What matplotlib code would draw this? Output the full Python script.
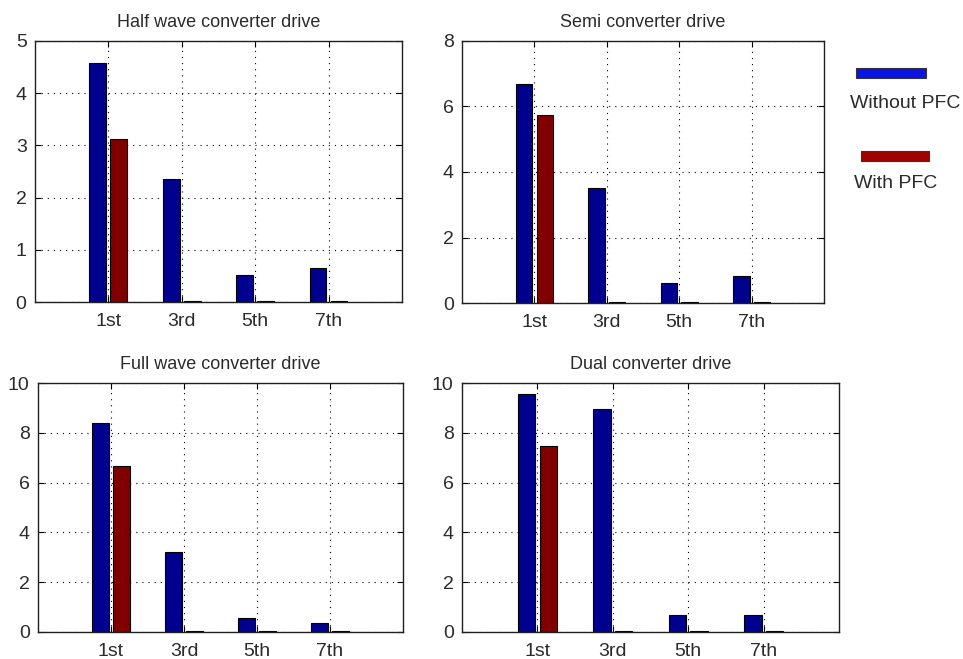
import matplotlib
matplotlib.use("Agg")
import matplotlib.pyplot as plt
from matplotlib.patches import Rectangle
import numpy as np

plt.rcParams['font.family'] = ['Liberation Sans', 'DejaVu Sans']

harmonics = ['1st', '3rd', '5th', '7th']

half_wave_without = [4.57, 2.36, 0.52, 0.65]
half_wave_with = [3.12, 0.02, 0.02, 0.02]

semi_without = [6.68, 3.50, 0.60, 0.83]
semi_with = [5.75, 0.04, 0.04, 0.04]

full_wave_without = [8.40, 3.22, 0.56, 0.36]
full_wave_with = [6.68, 0.05, 0.05, 0.05]

dual_without = [9.57, 8.95, 0.67, 0.67]
dual_with = [7.47, 0.05, 0.05, 0.05]

titles = ['Half wave converter drive', 'Semi converter drive',
          'Full wave converter drive', 'Dual converter drive']
y_max = [5, 8, 10, 10]
y_step = [1, 2, 2, 2]

legend_labels = ['Without PFC', 'With PFC']

BAR_BLUE = (0.0, 0.0, 0.5625)
BAR_RED = (0.5, 0.0, 0.0)
TEXT = '#2b2b2b'


def harmonic_bars(ax, without, with_pfc, title, ymax, ystep):
    """Grouped bars, matlab style: two series per harmonic"""
    x = np.arange(1, len(harmonics) + 1)
    width = 0.2286
    off = 0.1429
    ax.set_axisbelow(True)
    ax.bar(x - off, without, width, color=BAR_BLUE, edgecolor='black', linewidth=0.8)
    ax.bar(x + off, with_pfc, width, color=BAR_RED, edgecolor='black', linewidth=0.8)
    ax.set_xlim(0, 5)
    ax.set_ylim(0, ymax)
    ax.set_xticks(x)
    ax.set_xticklabels(harmonics)
    ax.set_yticks(np.arange(0, ymax + ystep / 2, ystep))
    ax.grid(True, color='black', linestyle=(0, (1, 4.5)), linewidth=0.8)
    ax.tick_params(direction='in', length=4, width=0.8, top=True, right=True,
                   labelsize=14, labelcolor=TEXT)
    ax.tick_params(axis='y', pad=6)
    ax.tick_params(axis='x', pad=8)
    for s in ax.spines.values():
        s.set_linewidth(1.0)
        s.set_color('#202020')
    ax.set_title(title, fontsize=13, color=TEXT, pad=10)


fig = plt.figure(figsize=(9.63, 6.59), dpi=100)

positions = [
    [0.0363, 0.5417, 0.3811, 0.3961],
    [0.4798, 0.5402, 0.3759, 0.3976],
    [0.0395, 0.0410, 0.3790, 0.3778],
    [0.4798, 0.0410, 0.3915, 0.3778],
]
series = [
    (half_wave_without, half_wave_with),
    (semi_without, semi_with),
    (full_wave_without, full_wave_with),
    (dual_without, dual_with),
]

for pos, (wo, wi), title, ymax, ystep in zip(positions, series, titles, y_max, y_step):
    ax = fig.add_axes(pos)
    harmonic_bars(ax, wo, wi, title, ymax, ystep)

# legend on the right: swatch above its label
W, H = 963.0, 659.0
swatches = [((856, 68, 70, 10), '#0a14e6', (850, 103)),
            ((861, 151, 68, 10), '#a00000', (854, 183))]
for (x0, y0, w, h), col, (tx, ty) in swatches:
    fig.patches.append(Rectangle((x0 / W, 1 - (y0 + h) / H), w / W, h / H,
                                 transform=fig.transFigure, facecolor=col,
                                 edgecolor='#333333', linewidth=0.8))
for (_, _, (tx, ty)), label in zip(swatches, legend_labels):
    fig.text(tx / W, 1 - ty / H, label, fontsize=14, color=TEXT,
             ha='left', va='center')

fig.savefig('out.png', dpi=100)
